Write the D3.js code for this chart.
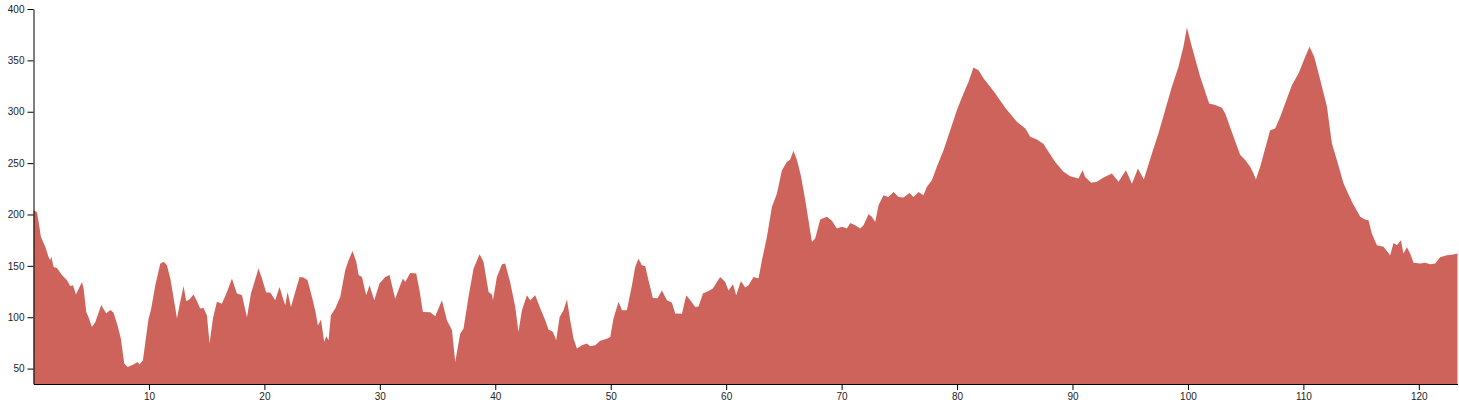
<!DOCTYPE html>
<html>
<head>
<meta charset="utf-8">
<script src="https://cdn.jsdelivr.net/npm/d3@7"></script>
<style>
  html, body { margin: 0; padding: 0; background: #fff; }
  svg { display: block; }
  .tick text { font-family: "Liberation Sans", Arial, sans-serif; font-size: 10px; fill: #222; }
</style>
</head>
<body>
<svg id="chart" width="1459" height="407"></svg>
<script>
const distanceKm = [
  0, 0.30, 0.44, 0.645, 1.02, 1.30, 1.45, 1.54, 1.74, 2.03, 2.46, 2.90, 3.18, 3.42, 3.68, 4.20, 4.34, 4.57, 4.77, 5.06,
  5.35, 5.87, 6.30, 6.65, 6.93, 7.28, 7.57, 7.86, 8.15, 8.67, 9.01, 9.19, 9.48, 9.77, 9.97, 10.17, 10.55, 10.98, 11.27, 11.56,
  11.85, 12.19, 12.43, 12.65, 13.00, 13.23, 13.52, 13.86, 14.16, 14.44, 14.73, 15.02, 15.25, 15.54, 15.89, 16.32, 16.76, 17.19, 17.62, 18.06,
  18.49, 18.84, 19.49, 19.79, 20.16, 20.51, 20.94, 21.31, 21.66, 21.81, 22.01, 22.30, 22.67, 23.05, 23.39, 23.74, 24.12, 24.40, 24.64, 24.90,
  25.18, 25.36, 25.56, 25.76, 26.14, 26.57, 27.00, 27.29, 27.64, 27.96, 28.16, 28.45, 28.82, 29.11, 29.52, 29.97, 30.47, 30.84, 31.33, 31.71,
  32.00, 32.20, 32.63, 33.15, 33.44, 33.73, 34.37, 34.80, 35.38, 35.81, 36.25, 36.53, 36.96, 37.25, 37.68, 38.12, 38.64, 38.98, 39.42, 39.71,
  39.80, 40.14, 40.58, 40.86, 41.30, 41.73, 42.01, 42.31, 42.74, 43.03, 43.46, 43.90, 44.33, 44.61, 45.00, 45.28, 45.57, 45.91, 46.21, 46.49,
  46.78, 47.07, 47.51, 47.94, 48.22, 48.66, 49.09, 49.67, 49.96, 50.24, 50.68, 50.97, 51.40, 51.84, 52.12, 52.41, 52.70, 52.99, 53.27, 53.65,
  54.05, 54.43, 54.87, 55.30, 55.59, 56.17, 56.54, 56.89, 57.32, 57.61, 57.99, 58.47, 58.85, 59.48, 59.92, 60.20, 60.59, 60.87, 61.28, 61.65,
  61.94, 62.37, 62.80, 63.10, 63.53, 63.96, 64.40, 64.83, 65.26, 65.55, 65.83, 66.13, 66.47, 66.85, 67.13, 67.43, 67.71, 68.15, 68.73, 69.16,
  69.59, 70.03, 70.46, 70.75, 71.18, 71.61, 71.90, 72.33, 72.62, 72.91, 73.20, 73.63, 74.06, 74.50, 74.93, 75.36, 75.88, 76.23, 76.66, 77.09,
  77.39, 77.82, 78.25, 78.83, 79.41, 79.99, 80.56, 80.99, 81.42, 81.86, 82.29, 82.87, 83.31, 84.17, 85.18, 85.91, 86.34, 86.92, 87.49, 87.92,
  88.50, 89.22, 89.80, 90.52, 90.87, 91.10, 91.62, 92.11, 92.69, 93.41, 93.99, 94.63, 95.15, 95.67, 96.18, 96.88, 97.45, 98.03, 98.61, 99.18,
  99.61, 99.91, 100.34, 101.06, 101.84, 102.36, 102.94, 103.23, 103.95, 104.53, 104.96, 105.39, 105.68, 105.89, 106.26, 106.69, 107.12, 107.56, 107.99, 108.42,
  109.01, 109.58, 110.16, 110.53, 110.94, 111.46, 112.04, 112.47, 112.90, 113.48, 114.20, 114.92, 115.35, 115.64, 115.93, 116.37, 116.94, 117.52, 117.81, 118.10,
  118.45, 118.67, 118.97, 119.25, 119.54, 120.12, 120.55, 120.98, 121.42, 121.84, 122.43, 123.00, 123.35
];
const elevationM = [
  204, 202.5, 193, 178, 168.5, 158.7, 155.5, 159.4, 149, 148, 141, 136, 130.5, 131, 122, 134.4, 128, 105, 100, 90.5,
  95, 112, 103.6, 107, 104.5, 92, 79, 55, 51.6, 54, 56.4, 54, 58, 82.4, 98.7, 106.8, 131, 152, 154, 150.6,
  137.7, 115, 98.7, 111.7, 130.5, 115.5, 117.5, 122, 115.5, 108.4, 109, 102, 74.4, 98.7, 115, 113, 124.6, 137.7, 123, 121.4,
  100, 123, 147.4, 137.7, 124, 124, 116.5, 129.5, 116.5, 111.7, 124.6, 110, 124.6, 139.2, 138.6, 136, 119.7, 106.8, 92, 97.7,
  76, 81.5, 77.5, 102, 108.4, 119.7, 145.7, 155.5, 164.5, 154, 141, 139.2, 121.4, 131, 116.5, 132.8, 139.2, 141, 118, 129.5,
  137.7, 134.4, 143, 142.5, 126, 105, 104.8, 101, 116.5, 97, 87.3, 56.4, 84, 89, 119.7, 147.4, 161.3, 154, 124.6, 122,
  116.5, 139.2, 151.6, 152.3, 133.5, 110, 85.7, 106.8, 121.4, 116.5, 121.4, 108.4, 97, 88, 85.7, 77.5, 100, 106.8, 117.2, 97,
  79, 69.5, 72.7, 74.4, 71.7, 72.7, 77, 79, 80.8, 98.7, 115, 106.8, 106.8, 131, 149, 157, 150.6, 149.6, 136, 118.8,
  118.5, 126, 116.5, 114, 103.6, 103.3, 121.4, 116.5, 110, 110.5, 123, 125.6, 128, 139.2, 134.4, 126, 132, 121.4, 135.3, 129,
  131.2, 139.2, 137.7, 155.5, 178, 207.4, 220.5, 243, 251, 253.6, 262, 253, 238, 214, 194.4, 173.3, 176.6, 195, 197.7, 193.8,
  186.4, 188, 186.4, 191.8, 189.5, 186.4, 189.5, 200.3, 197.7, 192.8, 209, 218.8, 217, 222, 217, 216.5, 221, 217, 222, 218.8,
  227, 233.4, 246.4, 262.6, 282, 301.6, 317.8, 329, 343, 340.5, 332.5, 324.3, 317.8, 304, 290.2, 283.7, 275.6, 273, 268.5, 261,
  251.2, 241.5, 237.3, 235, 243, 236.6, 230.8, 231.8, 236, 240, 231.8, 243, 230, 244.8, 234, 259.4, 279, 301.6, 324.3, 343.8,
  363.3, 382, 363.3, 334, 308, 306.5, 304, 298.4, 275.6, 257.8, 253, 246.4, 240, 234, 246.4, 264.3, 282, 283.7, 295, 308,
  326, 337.3, 353.5, 363.3, 353.5, 330.8, 305, 269.2, 253, 230.2, 212.3, 197.7, 195, 194.4, 181.5, 170, 168.5, 160.3, 172.3, 170,
  175, 162, 168, 162, 152.9, 152.3, 152.9, 151.6, 152.3, 158.4, 160.3, 161, 162
];
const xTickValues = [10, 20, 30, 40, 50, 60, 70, 80, 90, 100, 110, 120];
const yTickValues = [50, 100, 150, 200, 250, 300, 350, 400];
const yDomain = [35, 400];

const data = distanceKm.map((d, i) => ({ d, e: elevationM[i] }));

const svg = d3.select("#chart");
const mLeft = 33.5, mRight = 1457.5, mTop = 9, mBottom = 384;

const x = d3.scaleLinear().domain(d3.extent(distanceKm)).range([mLeft, mRight]);
const y = d3.scaleLinear().domain(yDomain).range([mBottom, mTop]);

const area = d3.area()
  .x(p => x(p.d))
  .y0(y(yDomain[0]))
  .y1(p => y(p.e))
  .curve(d3.curveLinear);

svg.append("path")
  .datum(data)
  .attr("fill", "#cd635a")
  .attr("d", area);

svg.append("g")
  .attr("transform", `translate(0,${mBottom})`)
  .call(d3.axisBottom(x).tickValues(xTickValues).tickSizeOuter(0).tickFormat(d3.format("d")));

svg.append("g")
  .attr("transform", `translate(${mLeft},0)`)
  .call(d3.axisLeft(y).tickValues(yTickValues).tickSizeOuter(0).tickFormat(d3.format("d")));
</script>
</body>
</html>
